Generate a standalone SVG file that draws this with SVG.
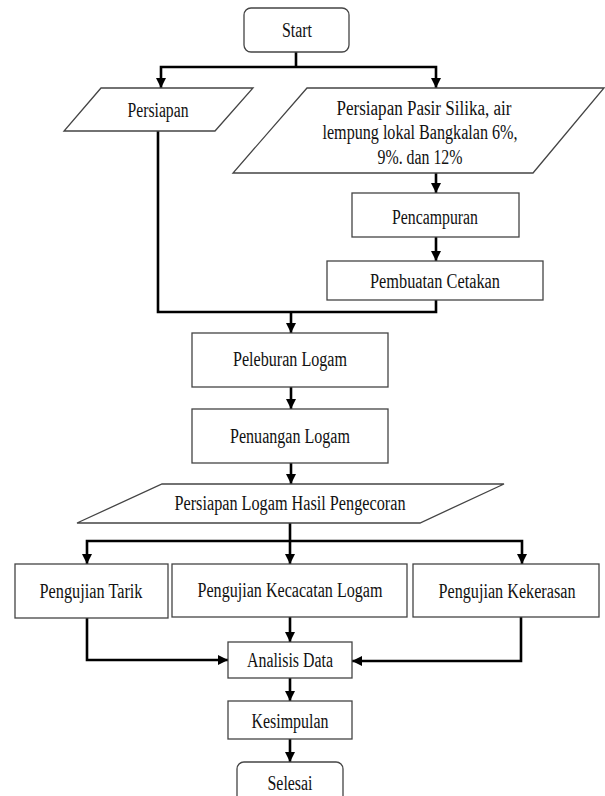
<svg xmlns="http://www.w3.org/2000/svg" width="605" height="796" viewBox="0 0 605 796">
<defs>
<style>
.box{fill:#fff;stroke:#444;stroke-width:1.3}
.t{font-size:20px;fill:#111;text-anchor:middle}
.c{fill:none;stroke:#000;stroke-width:2.6}
.a{marker-end:url(#arr)}
</style>
<marker id="arr" viewBox="0 0 10 10" refX="10" refY="5" markerWidth="10" markerHeight="11" markerUnits="userSpaceOnUse" orient="auto">
<path d="M0,0 L10,5 L0,10 z" fill="#000"/>
</marker>
</defs>
<rect width="605" height="796" fill="#fff"/>
<g id="connectors">
<path class="c" d="M296,52 V67"/>
<path class="c a" d="M296,67 H161 V88"/>
<path class="c a" d="M296,67 H436 V88"/>
<path class="c a" d="M436,173 V193"/>
<path class="c a" d="M436,237 V261"/>
<path class="c" d="M158,131 V312 H436 V300"/>
<path class="c a" d="M291,312 V333"/>
<path class="c a" d="M291,387 V409"/>
<path class="c a" d="M291,463 V484"/>
<path class="c" d="M290,523 V541"/>
<path class="c a" d="M290,541 H87 V564"/>
<path class="c a" d="M290,541 V564"/>
<path class="c a" d="M290,541 H522 V564"/>
<path class="c a" d="M87,618 V660 H228"/>
<path class="c a" d="M290,617 V642"/>
<path class="c a" d="M521,617 V661 H352"/>
<path class="c a" d="M290,678 V701"/>
<path class="c a" d="M290,739 V762"/>
</g>
<g font-family="'Liberation Serif', 'DejaVu Serif', serif">
<g id="start"><rect class="box" x="244" y="8" width="105" height="44" rx="7"/><text class="t" x="297" y="37" textLength="30" lengthAdjust="spacingAndGlyphs">Start</text></g>
<g id="persiapan"><polygon class="box" points="101,88 253,88 215,131 64,131"/><text class="t" x="158" y="117" textLength="61" lengthAdjust="spacingAndGlyphs">Persiapan</text></g>
<g id="persiapan-bahan"><polygon class="box" points="307,88 604,88 533,173 233,173"/>
<text class="t" x="424" y="115" textLength="175" lengthAdjust="spacingAndGlyphs">Persiapan Pasir Silika, air</text>
<text class="t" x="420" y="139" textLength="195" lengthAdjust="spacingAndGlyphs">lempung lokal Bangkalan 6%,</text>
<text class="t" x="420" y="164" textLength="85" lengthAdjust="spacingAndGlyphs">9%. dan 12%</text></g>
<g id="pencampuran"><rect class="box" x="352" y="193" width="167" height="44"/><text class="t" x="435" y="224" textLength="86" lengthAdjust="spacingAndGlyphs">Pencampuran</text></g>
<g id="pembuatan"><rect class="box" x="327" y="261" width="216" height="39"/><text class="t" x="435" y="288" textLength="130" lengthAdjust="spacingAndGlyphs">Pembuatan Cetakan</text></g>
<g id="peleburan"><rect class="box" x="192" y="333" width="196" height="54"/><text class="t" x="290" y="366" textLength="114" lengthAdjust="spacingAndGlyphs">Peleburan Logam</text></g>
<g id="penuangan"><rect class="box" x="192" y="409" width="196" height="54"/><text class="t" x="290" y="443" textLength="120" lengthAdjust="spacingAndGlyphs">Penuangan Logam</text></g>
<g id="hasil"><polygon class="box" points="162,484 504,484 420,523 77,523"/><text class="t" x="290" y="510" textLength="231" lengthAdjust="spacingAndGlyphs">Persiapan Logam Hasil Pengecoran</text></g>
<g id="tarik"><rect class="box" x="15" y="564" width="153" height="54"/><text class="t" x="91" y="598" textLength="103" lengthAdjust="spacingAndGlyphs">Pengujian Tarik</text></g>
<g id="kecacatan"><rect class="box" x="172" y="564" width="235" height="53"/><text class="t" x="290" y="597" textLength="185" lengthAdjust="spacingAndGlyphs">Pengujian Kecacatan Logam</text></g>
<g id="kekerasan"><rect class="box" x="413" y="564" width="186" height="53"/><text class="t" x="507" y="598" textLength="137" lengthAdjust="spacingAndGlyphs">Pengujian Kekerasan</text></g>
<g id="analisis"><rect class="box" x="228" y="642" width="124" height="36"/><text class="t" x="290" y="667" textLength="86" lengthAdjust="spacingAndGlyphs">Analisis Data</text></g>
<g id="kesimpulan"><rect class="box" x="228" y="701" width="124" height="38"/><text class="t" x="290" y="728" textLength="77" lengthAdjust="spacingAndGlyphs">Kesimpulan</text></g>
<g id="selesai"><rect class="box" x="237" y="762" width="106" height="50" rx="7"/><text class="t" x="290" y="790" textLength="45" lengthAdjust="spacingAndGlyphs">Selesai</text></g>
</g>
</svg>
